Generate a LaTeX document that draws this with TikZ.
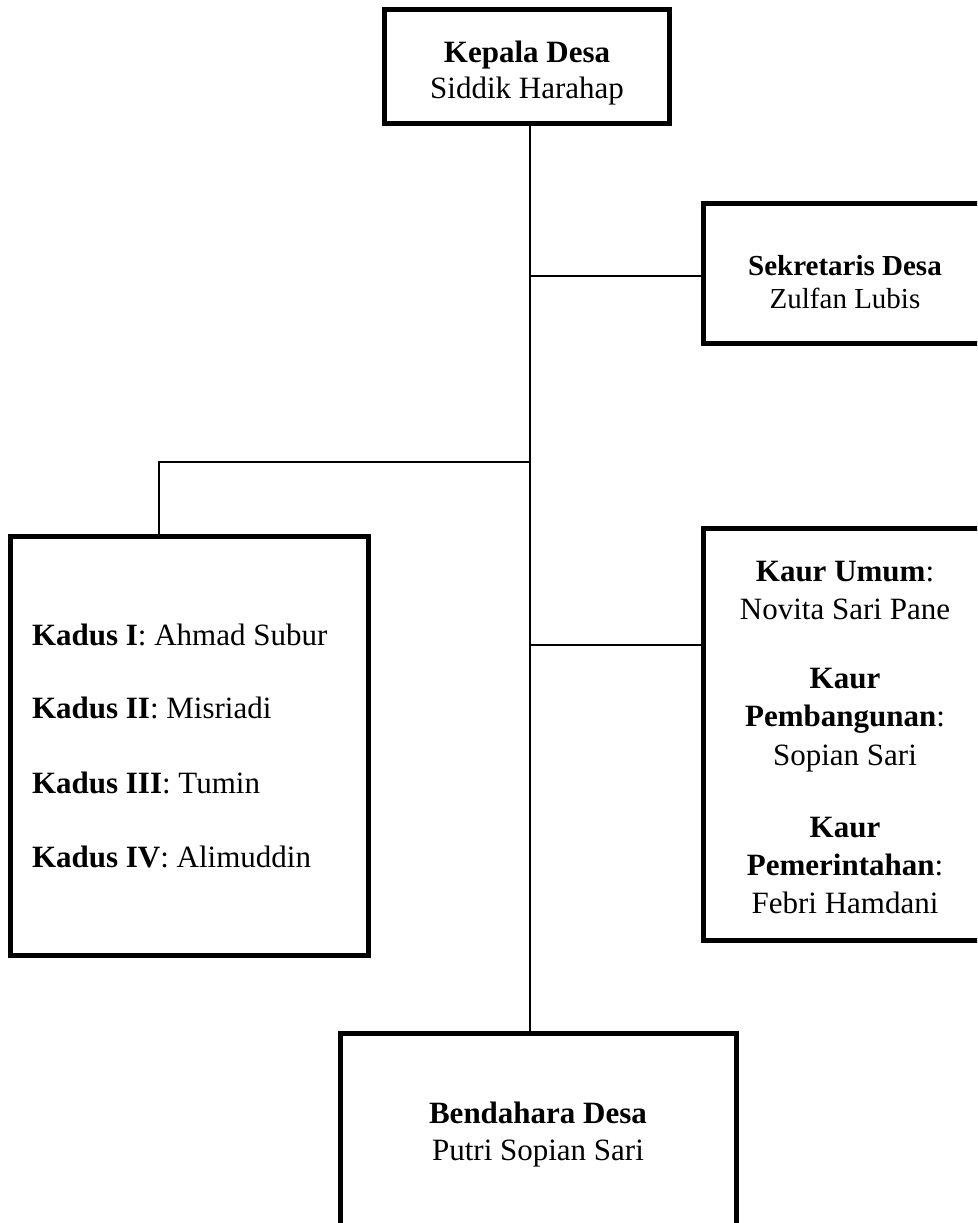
\documentclass[tikz,border=0pt]{standalone}
\usepackage{fontspec}
\setmainfont{Liberation Serif}
\begin{document}
\begin{tikzpicture}[x=1pt,y=-1pt,
  box/.style={draw=black,line width=5pt,rectangle,inner sep=0pt,outer sep=0pt,fill=none},
  conn/.style={draw=black,line width=1.8pt},
  txt/.style={inner sep=0pt,outer sep=0pt,anchor=base,font=\fontsize{31}{36}\selectfont},
  txtl/.style={txt,anchor=base west},
  txts/.style={txt,font=\fontsize{29}{34}\selectfont}]
\useasboundingbox (0,0) rectangle (977,1223);
\clip (0,0) rectangle (977,1223);
\fill[white] (0,0) rectangle (977,1223);
% boxes
\node[box,minimum width=284.5pt,minimum height=113.5pt] (kd) at (526.75,66.25) {};
\node[box,minimum width=284pt,minimum height=140pt] (sek) at (845,273) {};
\node[box,minimum width=358pt,minimum height=419pt] (kadus) at (189,745.5) {};
\node[box,minimum width=284pt,minimum height=412pt] (kaur) at (845,734) {};
\node[box,minimum width=396pt,minimum height=227pt] (bend) at (538,1146.5) {};
% junctions
\coordinate (jS) at (530,276);
\coordinate (jL) at (530,462);
\coordinate (jK) at (530,645);
\coordinate (kdsTop) at (159,536);
% connectors
\draw[conn] (kd.south -| jS) -- (bend.north -| jS);
\draw[conn] (jS) -- (jS -| sek.west);
\draw[conn] (jK) -- (jK -| kaur.west);
\draw[conn] (jL) -- (jL -| kdsTop) -- (kdsTop);
% texts
\node[txt] (t1a) at (527,63) {\textbf{Kepala Desa}};
\node[txt] (t1b) at (527,98) {Siddik Harahap};
\node[txts] (t2a) at (845,275) {\textbf{Sekretaris Desa}};
\node[txts] (t2b) at (845,308) {Zulfan Lubis};
\node[txtl] (t3a) at (32,645) {\textbf{Kadus I}: Ahmad Subur};
\node[txtl] (t3b) at (32,718) {\textbf{Kadus II}: Misriadi};
\node[txtl] (t3c) at (32,793) {\textbf{Kadus III}: Tumin};
\node[txtl] (t3d) at (32,867) {\textbf{Kadus IV}: Alimuddin};
\node[txt] (t4a) at (845,581) {\textbf{Kaur Umum}:};
\node[txt] (t4b) at (845,619) {Novita Sari Pane};
\node[txt] (t4c) at (845,688) {\textbf{Kaur}};
\node[txt] (t4d) at (845,726) {\textbf{Pembangunan}:};
\node[txt] (t4e) at (845,765) {Sopian Sari};
\node[txt] (t4f) at (845,837) {\textbf{Kaur}};
\node[txt] (t4g) at (845,875) {\textbf{Pemerintahan}:};
\node[txt] (t4h) at (845,913) {Febri Hamdani};
\node[txt] (t5a) at (538,1123) {\textbf{Bendahara Desa}};
\node[txt] (t5b) at (538,1160) {Putri Sopian Sari};
\end{tikzpicture}
\end{document}
